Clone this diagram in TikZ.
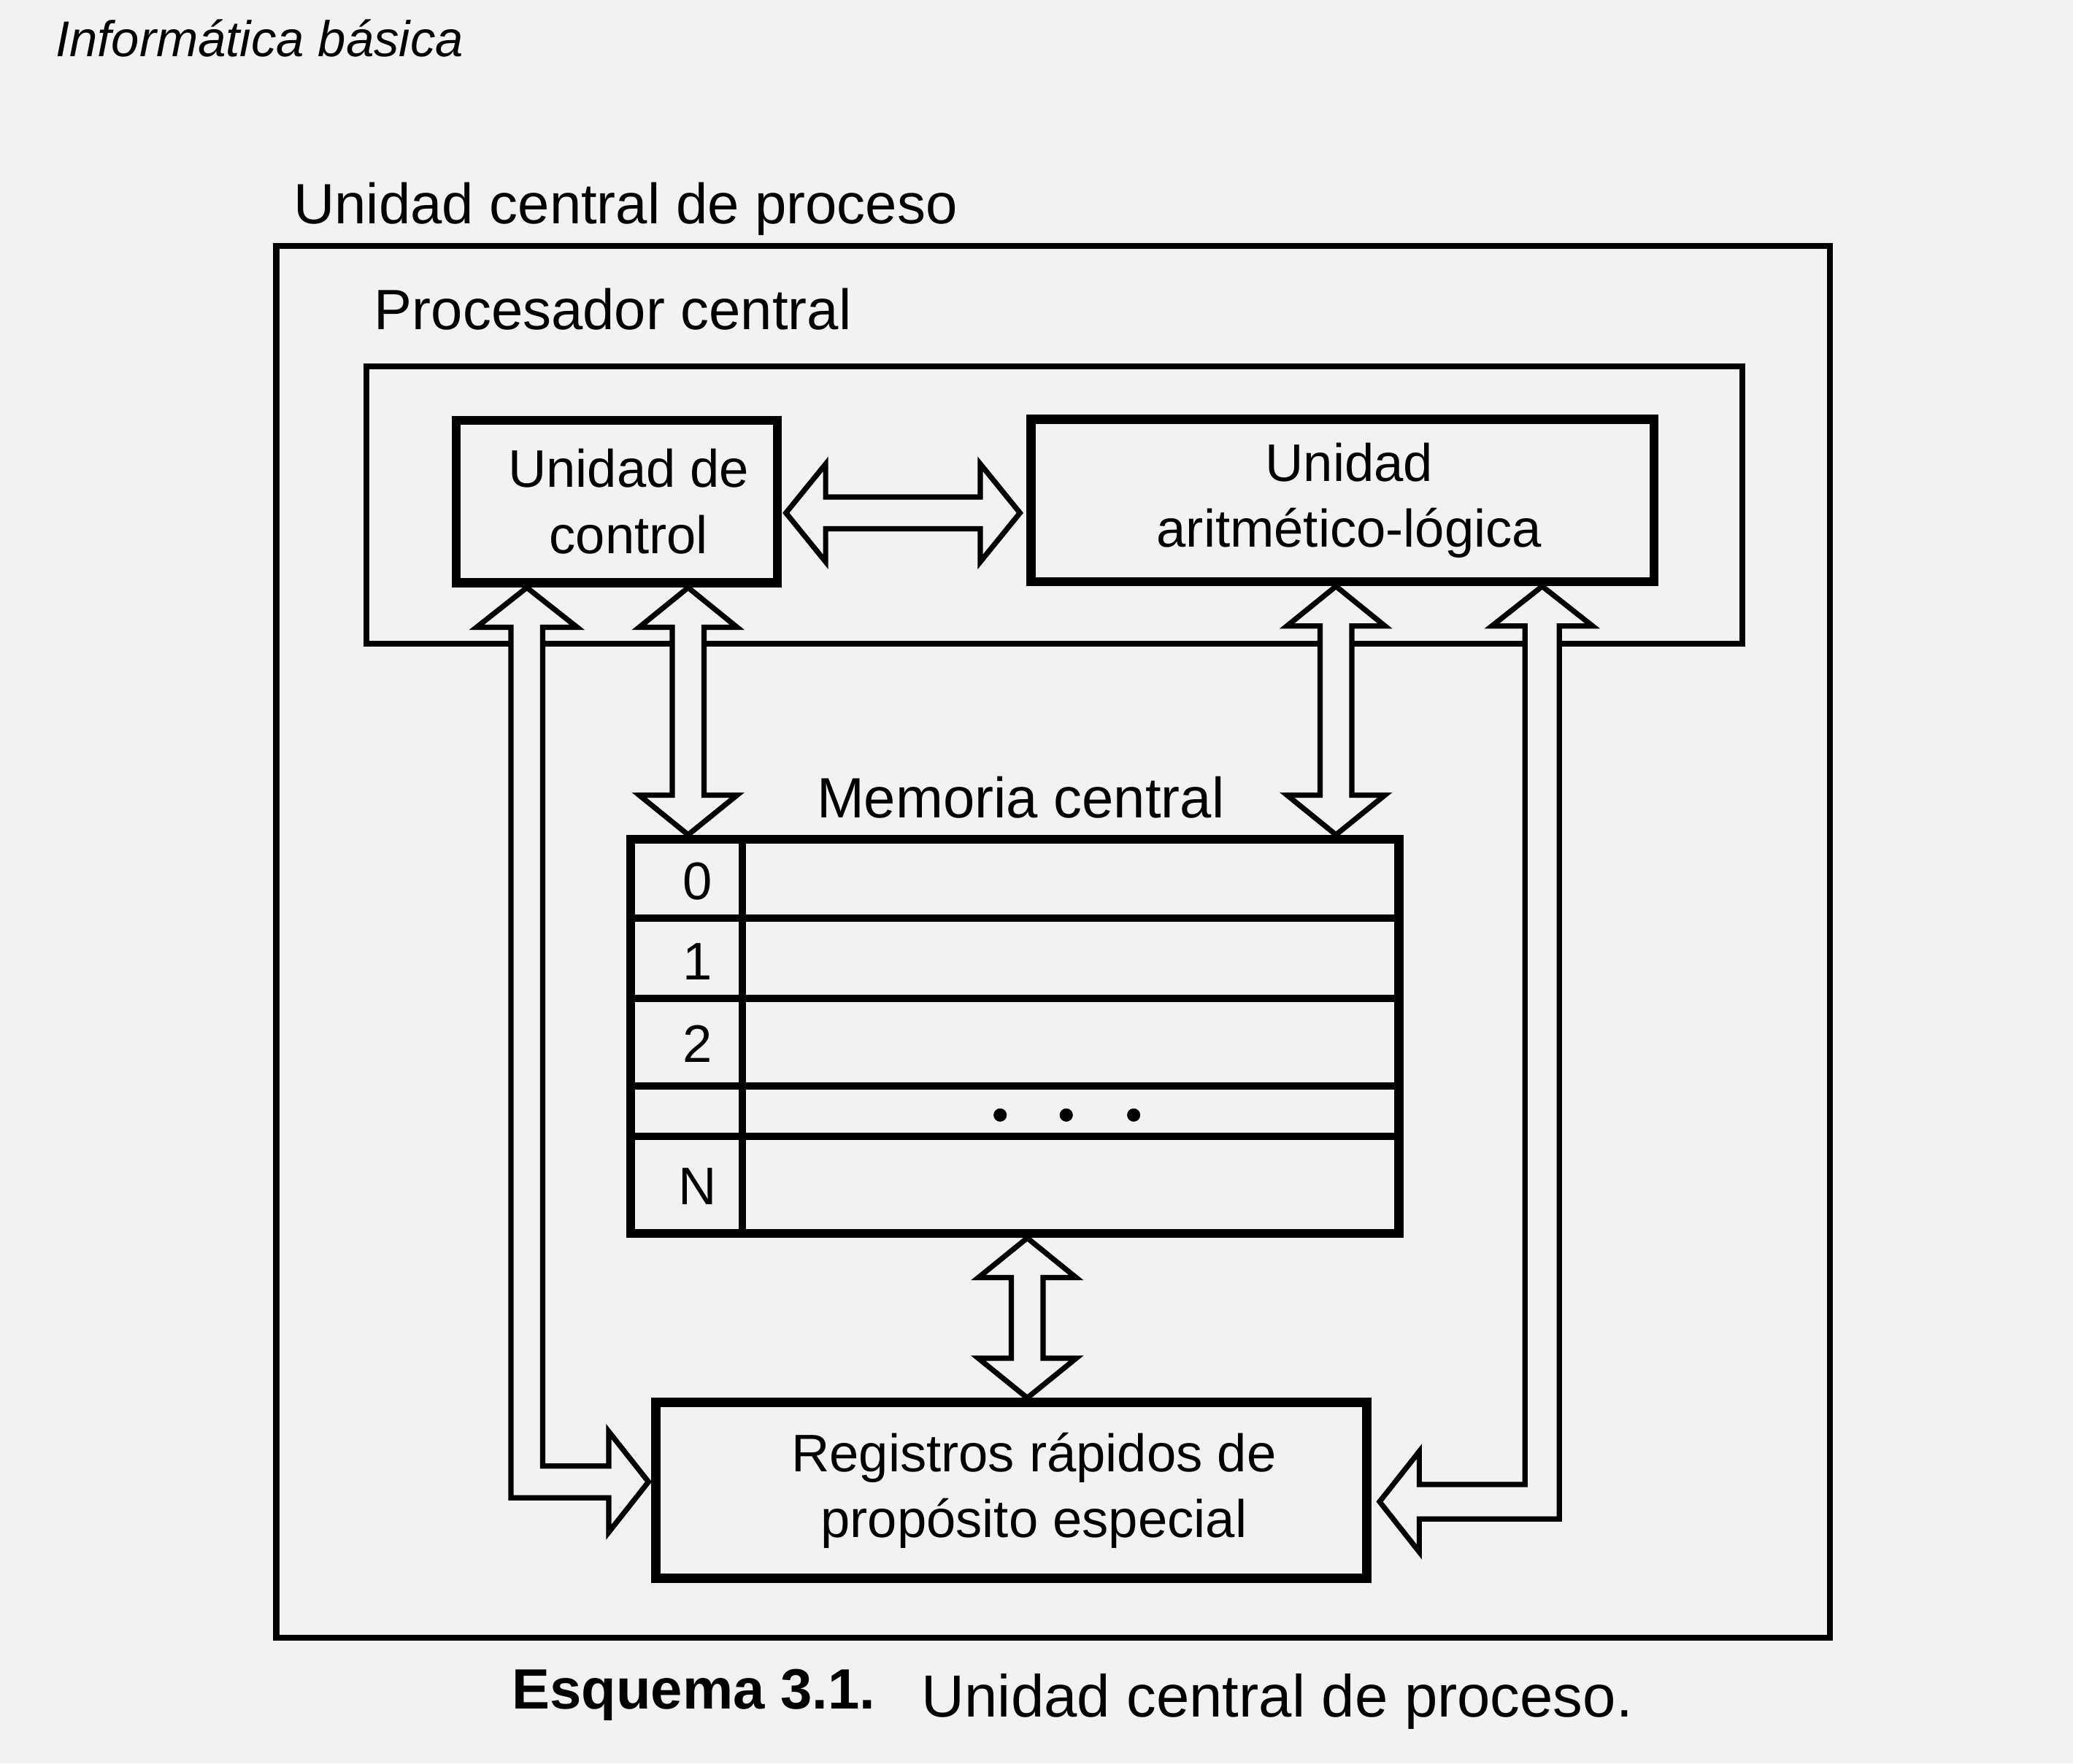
\documentclass[tikz,border=0pt]{standalone}
\usepackage{fontspec}
\setmainfont{Liberation Sans}
\usetikzlibrary{calc}
\definecolor{paper}{gray}{0.95}

\begin{document}
\begin{tikzpicture}[x=1pt, y=-1pt,
    box/.style={draw, line width=7pt, inner sep=0pt, align=center, font=\fontsize{40}{50}\selectfont},
    lbl/.style={inner sep=0pt, font=\fontsize{43}{50}\selectfont},
    hollow/.style={draw, line width=4pt, fill=paper, line join=miter}]
    % fond
    \fill[paper] (0,0) rectangle (1568,1334);
    \useasboundingbox (0,0) rectangle (1568,1334);
    \node[lbl, anchor=west, font=\fontsize{38}{46}\selectfont\itshape] (head) at (42,29) {Informática básica};
    % cadres
    \draw[line width=4.5pt] (209,186) rectangle (1384,1239);
    \node[lbl, anchor=west] (ucp) at (222,158) {Unidad central de proceso};
    \draw[line width=4.5pt] (277,277) rectangle (1318,487);
    \node[lbl, anchor=west] (pc) at (283,234) {Procesador central};
    % unidades
    \node[box, minimum width=243pt, minimum height=123pt] (cu) at (466.5,379.5) {\hspace*{18pt}Unidad de\\\hspace*{18pt}control};
    \node[box, minimum width=471pt, minimum height=123pt] (alu) at (1015.5,378.5) {\hspace*{10pt}Unidad\\\hspace*{10pt}aritmético-lógica};
    \node[lbl] (mct) at (772,603) {Memoria central};
    \node[box, minimum width=581pt, minimum height=298pt] (mem) at (767.5,784) {};
    \node[box, minimum width=538pt, minimum height=133pt] (reg) at (765,1127.5) {\hspace*{34pt}Registros rápidos de\\\hspace*{34pt}propósito especial};
    % celdas
    \foreach \d in {63,124,190,228}
        \draw[line width=5.5pt] ($(mem.north west)+(0,\d)$) -- ($(mem.north east)+(0,\d)$);
    \draw[line width=6pt] ($(mem.north west)+(88,0)$) -- ($(mem.south west)+(88,0)$);
    \foreach \y/\t in {35/0, 96/1, 158/2, 266/N}
        \node[font=\fontsize{40}{50}\selectfont] (i\t) at ($(mem.north west)+(54,\y)$) {\t};
    \foreach \x in {283,333,384}
        \fill ($(mem.north west)+(\x,212)$) circle (5pt);
    % flechas
    \coordinate (cuL) at ($(cu.south west)+(57,0)$);
    \coordinate (cuM) at ($(cu.south west)+(179,0)$);
    \coordinate (cuA) at ($(cu.east)+(3,8.5)$);
    \coordinate (aluC) at ($(alu.west)+(-5,9.5)$);
    \coordinate (aluM) at ($(alu.south west)+(234,0)$);
    \coordinate (aluR) at ($(alu.south west)+(390,0)$);
    \coordinate (memC) at ($(mem.north west)+(47,0)$);
    \coordinate (memA) at ($(mem.north west)+(537,0)$);
    \coordinate (memB) at ($(mem.south)+(9.5,0)$);
    \coordinate (regT) at ($(reg.north)+(12,0)$);
    \coordinate (regL) at ($(reg.west)+(-2,-6.5)$);
    \coordinate (regR) at ($(reg.east)+(6,8.5)$);
    \draw[hollow] (cuA) -- ++(30,-37) -- ++(0,25) -- ($(aluC)+(-30,-12)$) -- ++(0,-25) -- (aluC) -- ++(-30,37) -- ++(0,-25) -- ($(cuA)+(30,12)$) -- ++(0,25) -- cycle;
    \draw[hollow] (cuM) -- ++(37,30) -- ++(-25,0) -- ($(memC)+(12,-30)$) -- ++(25,0) -- (memC) -- ++(-37,-30) -- ++(25,0) -- ($(cuM)+(-12,30)$) -- ++(-25,0) -- cycle;
    \draw[hollow] (aluM) -- ++(37,30) -- ++(-25,0) -- ($(memA)+(12,-30)$) -- ++(25,0) -- (memA) -- ++(-37,-30) -- ++(25,0) -- ($(aluM)+(-12,30)$) -- ++(-25,0) -- cycle;
    \draw[hollow] (memB) -- ++(37,30) -- ++(-25,0) -- ($(regT)+(12,-30)$) -- ++(25,0) -- (regT) -- ++(-37,-30) -- ++(25,0) -- ($(memB)+(-12,30)$) -- ++(-25,0) -- cycle;
    \draw[hollow] (cuL) -- ++(38,30) -- ++(-26,0) |- ($(regL)+(-30,-12)$) -- ++(0,-26) -- (regL) -- ++(-30,38) -- ++(0,-26) -| ($(cuL)+(-12,30)$) -- ++(-26,0) -- cycle;
    \draw[hollow] (aluR) -- ++(38,30) -- ++(-25,0) |- ($(regR)+(30,13)$) -- ++(0,25) -- (regR) -- ++(30,-38) -- ++(0,25) -| ($(aluR)+(-13,30)$) -- ++(-25,0) -- cycle;
    % pie
    \node[lbl, anchor=west, font=\fontsize{43}{50}\selectfont\bfseries] (esq) at (387,1282) {Esquema 3.1.};
    \node[lbl, anchor=west, font=\fontsize{45}{50}\selectfont] (capt) at (697,1287) {Unidad central de proceso.};
\end{tikzpicture}
\end{document}
